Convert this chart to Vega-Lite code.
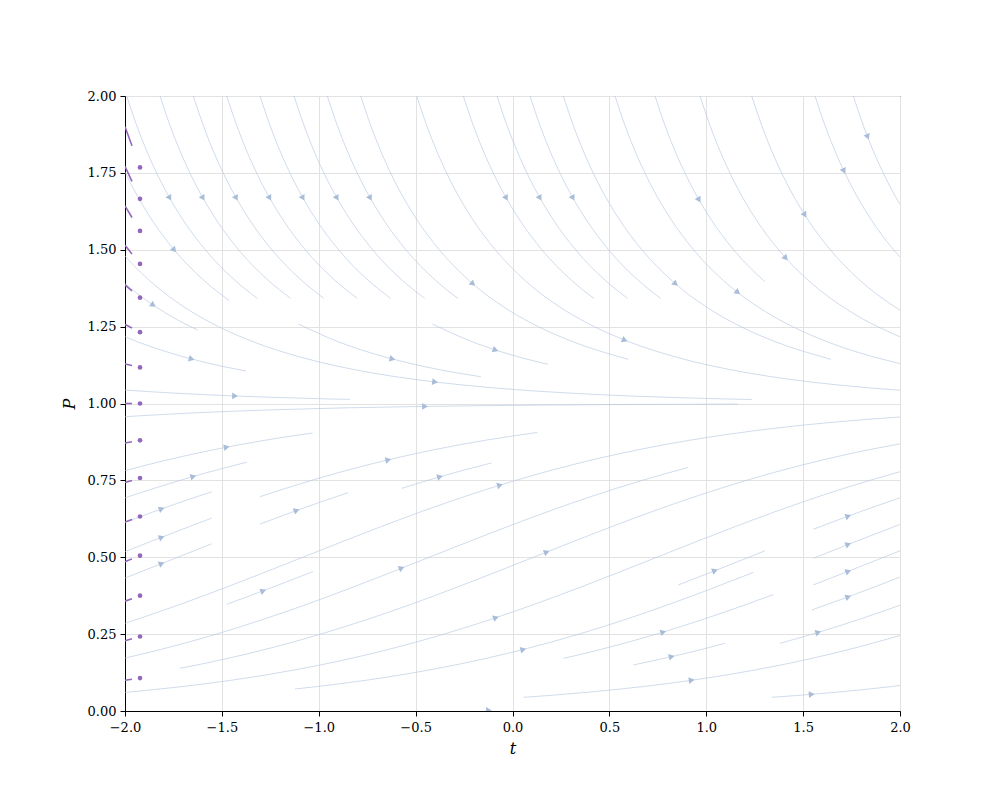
{
"$schema":"https://vega.github.io/schema/vega-lite/v6.json",
"width":775,"height":615,
"autosize":{"type":"none"},
"padding":{"left":125,"top":96,"right":100,"bottom":89},
"background":"white",
"config":{
 "view":{"stroke":"black","strokeWidth":1},
 "axis":{"domainColor":"black","domainWidth":1,"grid":true,"gridColor":"#e2e2e2","gridWidth":1,"tickColor":"black","tickSize":5,"tickWidth":1,"labelFont":"DejaVu Serif","labelFontSize":13,"labelColor":"black","labelPadding":4,"labelFlush":false,"labelOverlap":false,"titleFont":"DejaVu Serif","titleFontStyle":"italic","titleFontWeight":"normal","titleFontSize":16,"titleColor":"black"}
},
"datasets":{
"lines":[
{"s":"U1","t":-1.9912,"P":2.0},{"s":"U1","t":-1.9371,"P":1.9},{"s":"U1","t":-1.8734,"P":1.8},{"s":"U1","t":-1.797,"P":1.7},{"s":"U1","t":-1.7035,"P":1.6},{"s":"U1","t":-1.5857,"P":1.5},{"s":"U1","t":-1.4315,"P":1.4},{"s":"U1","t":-1.3172,"P":1.342},
{"s":"U1b","t":-1.1051,"P":1.2585},{"s":"U1b","t":-0.8962,"P":1.2},{"s":"U1b","t":-0.6511,"P":1.15},{"s":"U1b","t":-0.4544,"P":1.12},{"s":"U1b","t":-0.2901,"P":1.1},{"s":"U1b","t":-0.1628,"P":1.087},
{"s":"U2","t":-1.8194,"P":2.0},{"s":"U2","t":-1.7653,"P":1.9},{"s":"U2","t":-1.7016,"P":1.8},{"s":"U2","t":-1.6252,"P":1.7},{"s":"U2","t":-1.5317,"P":1.6},{"s":"U2","t":-1.4139,"P":1.5},{"s":"U2","t":-1.2597,"P":1.4},{"s":"U2","t":-1.1454,"P":1.342},
{"s":"U3","t":-1.6475,"P":2.0},{"s":"U3","t":-1.5934,"P":1.9},{"s":"U3","t":-1.5297,"P":1.8},{"s":"U3","t":-1.4533,"P":1.7},{"s":"U3","t":-1.3598,"P":1.6},{"s":"U3","t":-1.242,"P":1.5},{"s":"U3","t":-1.0878,"P":1.4},{"s":"U3","t":-0.9735,"P":1.342},
{"s":"U4","t":-1.4751,"P":2.0},{"s":"U4","t":-1.421,"P":1.9},{"s":"U4","t":-1.3573,"P":1.8},{"s":"U4","t":-1.2809,"P":1.7},{"s":"U4","t":-1.1874,"P":1.6},{"s":"U4","t":-1.0696,"P":1.5},{"s":"U4","t":-0.9154,"P":1.4},{"s":"U4","t":-0.8011,"P":1.342},
{"s":"U5","t":-1.3032,"P":2.0},{"s":"U5","t":-1.2491,"P":1.9},{"s":"U5","t":-1.1854,"P":1.8},{"s":"U5","t":-1.109,"P":1.7},{"s":"U5","t":-1.0155,"P":1.6},{"s":"U5","t":-0.8977,"P":1.5},{"s":"U5","t":-0.7435,"P":1.4},{"s":"U5","t":-0.6292,"P":1.342},
{"s":"U5b","t":-0.4134,"P":1.2585},{"s":"U5b","t":-0.2045,"P":1.2},{"s":"U5b","t":0.0406,"P":1.15},{"s":"U5b","t":0.1827,"P":1.1276},
{"s":"U6","t":-1.1277,"P":2.0},{"s":"U6","t":-1.0736,"P":1.9},{"s":"U6","t":-1.0099,"P":1.8},{"s":"U6","t":-0.9335,"P":1.7},{"s":"U6","t":-0.84,"P":1.6},{"s":"U6","t":-0.7222,"P":1.5},{"s":"U6","t":-0.568,"P":1.4},{"s":"U6","t":-0.4537,"P":1.342},
{"s":"U7","t":-0.9559,"P":2.0},{"s":"U7","t":-0.9018,"P":1.9},{"s":"U7","t":-0.8381,"P":1.8},{"s":"U7","t":-0.7617,"P":1.7},{"s":"U7","t":-0.6682,"P":1.6},{"s":"U7","t":-0.5504,"P":1.5},{"s":"U7","t":-0.3962,"P":1.4},{"s":"U7","t":-0.2819,"P":1.342},
{"s":"U8","t":-0.7835,"P":2.0},{"s":"U8","t":-0.7294,"P":1.9},{"s":"U8","t":-0.6657,"P":1.8},{"s":"U8","t":-0.5893,"P":1.7},{"s":"U8","t":-0.4958,"P":1.6},{"s":"U8","t":-0.378,"P":1.5},{"s":"U8","t":-0.2238,"P":1.4},{"s":"U8","t":-0.0103,"P":1.3},{"s":"U8","t":0.1328,"P":1.25},{"s":"U8","t":0.3152,"P":1.2},{"s":"U8","t":0.5977,"P":1.1437},
{"s":"U9","t":-0.4945,"P":2.0},{"s":"U9","t":-0.4404,"P":1.9},{"s":"U9","t":-0.3767,"P":1.8},{"s":"U9","t":-0.3003,"P":1.7},{"s":"U9","t":-0.2068,"P":1.6},{"s":"U9","t":-0.089,"P":1.5},{"s":"U9","t":0.0652,"P":1.4},{"s":"U9","t":0.2787,"P":1.3},{"s":"U9","t":0.4218,"P":1.25},{"s":"U9","t":0.6042,"P":1.2},{"s":"U9","t":0.8493,"P":1.15},{"s":"U9","t":1.2103,"P":1.1},{"s":"U9","t":1.4151,"P":1.08},{"s":"U9","t":1.6841,"P":1.06},{"s":"U9","t":1.8569,"P":1.05},{"s":"U9","t":2.0,"P":1.0431},
{"s":"U10","t":-0.2539,"P":2.0},{"s":"U10","t":-0.1998,"P":1.9},{"s":"U10","t":-0.1361,"P":1.8},{"s":"U10","t":-0.0597,"P":1.7},{"s":"U10","t":0.0338,"P":1.6},{"s":"U10","t":0.1516,"P":1.5},{"s":"U10","t":0.3058,"P":1.4},{"s":"U10","t":0.4201,"P":1.342},
{"s":"U11","t":-0.08,"P":2.0},{"s":"U11","t":-0.0259,"P":1.9},{"s":"U11","t":0.0378,"P":1.8},{"s":"U11","t":0.1142,"P":1.7},{"s":"U11","t":0.2077,"P":1.6},{"s":"U11","t":0.3255,"P":1.5},{"s":"U11","t":0.4797,"P":1.4},{"s":"U11","t":0.594,"P":1.342},
{"s":"U12","t":0.0903,"P":2.0},{"s":"U12","t":0.1444,"P":1.9},{"s":"U12","t":0.2081,"P":1.8},{"s":"U12","t":0.2845,"P":1.7},{"s":"U12","t":0.378,"P":1.6},{"s":"U12","t":0.4958,"P":1.5},{"s":"U12","t":0.65,"P":1.4},{"s":"U12","t":0.7643,"P":1.342},
{"s":"U13","t":0.2622,"P":2.0},{"s":"U13","t":0.3163,"P":1.9},{"s":"U13","t":0.38,"P":1.8},{"s":"U13","t":0.4564,"P":1.7},{"s":"U13","t":0.5499,"P":1.6},{"s":"U13","t":0.6677,"P":1.5},{"s":"U13","t":0.8219,"P":1.4},{"s":"U13","t":1.0354,"P":1.3},{"s":"U13","t":1.1785,"P":1.25},{"s":"U13","t":1.3609,"P":1.2},{"s":"U13","t":1.6434,"P":1.1437},
{"s":"U14","t":0.529,"P":2.0},{"s":"U14","t":0.5831,"P":1.9},{"s":"U14","t":0.6468,"P":1.8},{"s":"U14","t":0.7232,"P":1.7},{"s":"U14","t":0.8167,"P":1.6},{"s":"U14","t":0.9345,"P":1.5},{"s":"U14","t":1.0887,"P":1.4},{"s":"U14","t":1.3022,"P":1.3},{"s":"U14","t":1.4453,"P":1.25},{"s":"U14","t":1.6277,"P":1.2},{"s":"U14","t":1.8728,"P":1.15},{"s":"U14","t":2.0,"P":1.1298},
{"s":"U15","t":0.7355,"P":2.0},{"s":"U15","t":0.7896,"P":1.9},{"s":"U15","t":0.8533,"P":1.8},{"s":"U15","t":0.9297,"P":1.7},{"s":"U15","t":1.0232,"P":1.6},{"s":"U15","t":1.141,"P":1.5},{"s":"U15","t":1.3024,"P":1.396},
{"s":"U16","t":0.9677,"P":2.0},{"s":"U16","t":1.0218,"P":1.9},{"s":"U16","t":1.0855,"P":1.8},{"s":"U16","t":1.1619,"P":1.7},{"s":"U16","t":1.2554,"P":1.6},{"s":"U16","t":1.3732,"P":1.5},{"s":"U16","t":1.5274,"P":1.4},{"s":"U16","t":1.7409,"P":1.3},{"s":"U16","t":2.0,"P":1.2167},
{"s":"U17","t":1.2346,"P":2.0},{"s":"U17","t":1.2887,"P":1.9},{"s":"U17","t":1.3524,"P":1.8},{"s":"U17","t":1.4288,"P":1.7},{"s":"U17","t":1.5223,"P":1.6},{"s":"U17","t":1.6401,"P":1.5},{"s":"U17","t":1.7943,"P":1.4},{"s":"U17","t":2.0,"P":1.3031},
{"s":"U18","t":1.5613,"P":2.0},{"s":"U18","t":1.6154,"P":1.9},{"s":"U18","t":1.6791,"P":1.8},{"s":"U18","t":1.7555,"P":1.7},{"s":"U18","t":1.849,"P":1.6},{"s":"U18","t":1.9668,"P":1.5},{"s":"U18","t":2.0,"P":1.476},
{"s":"U19","t":1.759,"P":2.0},{"s":"U19","t":1.8131,"P":1.9},{"s":"U19","t":1.8768,"P":1.8},{"s":"U19","t":1.9532,"P":1.7},{"s":"U19","t":2.0,"P":1.647},
{"s":"UL1","t":-2.0,"P":1.753},{"s":"UL1","t":-1.9577,"P":1.7},{"s":"UL1","t":-1.8642,"P":1.6},{"s":"UL1","t":-1.7464,"P":1.5},{"s":"UL1","t":-1.5922,"P":1.4},{"s":"UL1","t":-1.4625,"P":1.335},
{"s":"UL2","t":-2.0,"P":1.4796},{"s":"UL2","t":-1.9565,"P":1.45},{"s":"UL2","t":-1.8738,"P":1.4},{"s":"UL2","t":-1.7767,"P":1.35},{"s":"UL2","t":-1.6603,"P":1.3},{"s":"UL2","t":-1.5172,"P":1.25},{"s":"UL2","t":-1.3348,"P":1.2},{"s":"UL2","t":-1.0897,"P":1.15},{"s":"UL2","t":-0.893,"P":1.12},{"s":"UL2","t":-0.7287,"P":1.1},{"s":"UL2","t":-0.5239,"P":1.08},{"s":"UL2","t":-0.2549,"P":1.06},{"s":"UL2","t":-0.0821,"P":1.05},{"s":"UL2","t":0.1315,"P":1.04},{"s":"UL2","t":0.4095,"P":1.03},{"s":"UL2","t":0.8052,"P":1.02},{"s":"UL2","t":1.2346,"P":1.0129},
{"s":"UL3","t":-2.0,"P":1.39},{"s":"UL3","t":-1.9211,"P":1.35},{"s":"UL3","t":-1.8047,"P":1.3},{"s":"UL3","t":-1.6616,"P":1.25},{"s":"UL3","t":-1.6254,"P":1.239},
{"s":"UL4","t":-2.0,"P":1.217},{"s":"UL4","t":-1.9324,"P":1.2},{"s":"UL4","t":-1.6873,"P":1.15},{"s":"UL4","t":-1.4906,"P":1.12},{"s":"UL4","t":-1.3765,"P":1.1057},
{"s":"UL5","t":-2.0,"P":1.0439},{"s":"UL5","t":-1.9109,"P":1.04},{"s":"UL5","t":-1.6329,"P":1.03},{"s":"UL5","t":-1.2372,"P":1.02},{"s":"UL5","t":-0.9544,"P":1.015},{"s":"UL5","t":-0.8387,"P":1.0134},
{"s":"L1","t":-2.0,"P":0.957},{"s":"L1","t":-1.9245,"P":0.96},{"s":"L1","t":-1.6265,"P":0.97},{"s":"L1","t":-1.2108,"P":0.98},{"s":"L1","t":-0.5075,"P":0.99},{"s":"L1","t":0.1907,"P":0.995},{"s":"L1","t":1.11,"P":0.998},{"s":"L1","t":1.1639,"P":0.9981},
{"s":"L2","t":-2.0,"P":0.7815},{"s":"L2","t":-1.8882,"P":0.8},{"s":"L2","t":-1.5399,"P":0.85},{"s":"L2","t":-1.2821,"P":0.88},{"s":"L2","t":-1.0773,"P":0.9},{"s":"L2","t":-1.032,"P":0.904},
{"s":"L3","t":-2.0,"P":0.6932},{"s":"L3","t":-1.9677,"P":0.7},{"s":"L3","t":-1.7164,"P":0.75},{"s":"L3","t":-1.4287,"P":0.8},{"s":"L3","t":-1.3719,"P":0.8089},
{"s":"L4","t":-2.0,"P":0.6136},{"s":"L4","t":-1.8434,"P":0.65},{"s":"L4","t":-1.6151,"P":0.7},{"s":"L4","t":-1.5525,"P":0.713},
{"s":"L5","t":-2.0,"P":0.5181},{"s":"L5","t":-1.8717,"P":0.55},{"s":"L5","t":-1.6669,"P":0.6},{"s":"L5","t":-1.5525,"P":0.6271},
{"s":"L6","t":-2.0,"P":0.4325},{"s":"L6","t":-1.929,"P":0.45},{"s":"L6","t":-1.7283,"P":0.5},{"s":"L6","t":-1.5525,"P":0.5438},
{"s":"L7","t":-2.0,"P":0.2854},{"s":"L7","t":-1.9295,"P":0.3},{"s":"L7","t":-1.7012,"P":0.35},{"s":"L7","t":-1.4877,"P":0.4},{"s":"L7","t":-1.2829,"P":0.45},{"s":"L7","t":-1.0822,"P":0.5},{"s":"L7","t":-0.8815,"P":0.55},{"s":"L7","t":-0.6767,"P":0.6},{"s":"L7","t":-0.4632,"P":0.65},{"s":"L7","t":-0.2349,"P":0.7},{"s":"L7","t":0.0164,"P":0.75},{"s":"L7","t":0.3041,"P":0.8},{"s":"L7","t":0.6524,"P":0.85},{"s":"L7","t":0.9102,"P":0.88},{"s":"L7","t":1.115,"P":0.9},{"s":"L7","t":1.3601,"P":0.92},{"s":"L7","t":1.6693,"P":0.94},{"s":"L7","t":2.0,"P":0.9562},
{"s":"Lc","t":-1.3032,"P":0.697},{"s":"Lc","t":-1.0379,"P":0.75},{"s":"Lc","t":-0.7502,"P":0.8},{"s":"Lc","t":-0.4019,"P":0.85},{"s":"Lc","t":-0.1441,"P":0.88},{"s":"Lc","t":0.128,"P":0.9059},
{"s":"Ld","t":-0.5719,"P":0.724},{"s":"Ld","t":-0.438,"P":0.75},{"s":"Ld","t":-0.1503,"P":0.8},{"s":"Ld","t":-0.1074,"P":0.8068},
{"s":"L5m","t":-1.4751,"P":0.347},{"s":"L5m","t":-1.2483,"P":0.4},{"s":"L5m","t":-1.0435,"P":0.45},{"s":"L5m","t":-1.0281,"P":0.4538},
{"s":"L6m","t":-1.3032,"P":0.608},{"s":"L6m","t":-1.1237,"P":0.65},{"s":"L6m","t":-0.8954,"P":0.7},{"s":"L6m","t":-0.8475,"P":0.71},
{"s":"LB","t":-1.7161,"P":0.1389},{"s":"LB","t":-1.6262,"P":0.15},{"s":"LB","t":-1.2779,"P":0.2},{"s":"LB","t":-0.9902,"P":0.25},{"s":"LB","t":-0.7389,"P":0.3},{"s":"LB","t":-0.5106,"P":0.35},{"s":"LB","t":-0.2971,"P":0.4},{"s":"LB","t":-0.0923,"P":0.45},{"s":"LB","t":0.1084,"P":0.5},{"s":"LB","t":0.3091,"P":0.55},{"s":"LB","t":0.5139,"P":0.6},{"s":"LB","t":0.7274,"P":0.65},{"s":"LB","t":0.9557,"P":0.7},{"s":"LB","t":1.207,"P":0.75},{"s":"LB","t":1.4947,"P":0.8},{"s":"LB","t":1.843,"P":0.85},{"s":"LB","t":2.0,"P":0.869},
{"s":"L8","t":-2.0,"P":0.1722},{"s":"L8","t":-1.8159,"P":0.2},{"s":"L8","t":-1.5282,"P":0.25},{"s":"L8","t":-1.2769,"P":0.3},{"s":"L8","t":-1.0486,"P":0.35},{"s":"L8","t":-0.8351,"P":0.4},{"s":"L8","t":-0.6303,"P":0.45},{"s":"L8","t":-0.4296,"P":0.5},{"s":"L8","t":-0.2289,"P":0.55},{"s":"L8","t":-0.0241,"P":0.6},{"s":"L8","t":0.1894,"P":0.65},{"s":"L8","t":0.4177,"P":0.7},{"s":"L8","t":0.669,"P":0.75},{"s":"L8","t":0.9074,"P":0.792},
{"s":"L9","t":-2.0,"P":0.0604},{"s":"L9","t":-1.6973,"P":0.08},{"s":"L9","t":-1.4522,"P":0.1},{"s":"L9","t":-1.2474,"P":0.12},{"s":"L9","t":-0.9896,"P":0.15},{"s":"L9","t":-0.6413,"P":0.2},{"s":"L9","t":-0.3536,"P":0.25},{"s":"L9","t":-0.1023,"P":0.3},{"s":"L9","t":0.126,"P":0.35},{"s":"L9","t":0.3395,"P":0.4},{"s":"L9","t":0.5443,"P":0.45},{"s":"L9","t":0.745,"P":0.5},{"s":"L9","t":0.9457,"P":0.55},{"s":"L9","t":1.1505,"P":0.6},{"s":"L9","t":1.364,"P":0.65},{"s":"L9","t":1.5923,"P":0.7},{"s":"L9","t":1.8436,"P":0.75},{"s":"L9","t":2.0,"P":0.7782},
{"s":"L11","t":-1.1226,"P":0.0715},{"s":"L11","t":-1.001,"P":0.08},{"s":"L11","t":-0.7559,"P":0.1},{"s":"L11","t":-0.5511,"P":0.12},{"s":"L11","t":-0.2933,"P":0.15},{"s":"L11","t":0.055,"P":0.2},{"s":"L11","t":0.3427,"P":0.25},{"s":"L11","t":0.594,"P":0.3},{"s":"L11","t":0.8223,"P":0.35},{"s":"L11","t":1.0358,"P":0.4},{"s":"L11","t":1.2429,"P":0.4506},
{"s":"E","t":0.2622,"P":0.171},{"s":"E","t":0.4544,"P":0.2},{"s":"E","t":0.7421,"P":0.25},{"s":"E","t":0.9934,"P":0.3},{"s":"E","t":1.2217,"P":0.35},{"s":"E","t":1.3461,"P":0.3788},
{"s":"F","t":0.6235,"P":0.1496},{"s":"F","t":0.9746,"P":0.2},{"s":"F","t":1.0968,"P":0.2203},
{"s":"G","t":0.0559,"P":0.0445},{"s":"G","t":0.1782,"P":0.05},{"s":"G","t":0.3711,"P":0.06},{"s":"G","t":0.6803,"P":0.08},{"s":"G","t":0.9254,"P":0.1},{"s":"G","t":1.1302,"P":0.12},{"s":"G","t":1.388,"P":0.15},{"s":"G","t":1.7363,"P":0.2},{"s":"G","t":2.0,"P":0.2455},
{"s":"H","t":0.8558,"P":0.41},{"s":"H","t":1.0188,"P":0.45},{"s":"H","t":1.2195,"P":0.5},{"s":"H","t":1.3032,"P":0.521},
{"s":"I","t":1.5526,"P":0.591},{"s":"I","t":1.8033,"P":0.65},{"s":"I","t":2.0,"P":0.6933},
{"s":"J","t":1.5526,"P":0.4966},{"s":"J","t":1.7669,"P":0.55},{"s":"J","t":2.0,"P":0.6068},
{"s":"K","t":1.5526,"P":0.41},{"s":"K","t":1.7156,"P":0.45},{"s":"K","t":1.9163,"P":0.5},{"s":"K","t":2.0,"P":0.521},
{"s":"Lq","t":1.5443,"P":0.3285},{"s":"Lq","t":1.6405,"P":0.35},{"s":"Lq","t":1.854,"P":0.4},{"s":"Lq","t":2.0,"P":0.4355},
{"s":"M","t":1.3806,"P":0.22},{"s":"M","t":1.5477,"P":0.25},{"s":"M","t":1.799,"P":0.3},{"s":"M","t":2.0,"P":0.3438},
{"s":"O","t":1.3377,"P":0.0445},{"s":"O","t":1.46,"P":0.05},{"s":"O","t":1.6529,"P":0.06},{"s":"O","t":1.9621,"P":0.08},{"s":"O","t":2.0,"P":0.0829}
],
"arrows":[
{"t":-1.7692,"P":1.668,"d":-1.1142},{"t":-1.5974,"P":1.668,"d":-1.1142},{"t":-1.4255,"P":1.668,"d":-1.1142},{"t":-1.2531,"P":1.668,"d":-1.1142},{"t":-1.0812,"P":1.668,"d":-1.1142},{"t":-0.9057,"P":1.668,"d":-1.1142},{"t":-0.7339,"P":1.668,"d":-1.1142},{"t":-0.0319,"P":1.668,"d":-1.1142},{"t":0.142,"P":1.668,"d":-1.1142},{"t":0.3123,"P":1.668,"d":-1.1142},
{"t":0.9629,"P":1.662,"d":-1.1002},{"t":-1.7457,"P":1.499,"d":-0.748},{"t":-1.8539,"P":1.32,"d":-0.4224},{"t":-1.6559,"P":1.1447,"d":-0.1656},{"t":-1.432,"P":1.0244,"d":-0.025},{"t":-0.6197,"P":1.1447,"d":-0.1656},{"t":-0.3997,"P":1.07,"d":-0.0749},{"t":-0.2038,"P":1.389,"d":-0.5403},{"t":-0.0872,"P":1.174,"d":-0.2043},{"t":0.5796,"P":1.206,"d":-0.2484},{"t":0.8419,"P":1.389,"d":-0.5403},{"t":1.163,"P":1.361,"d":-0.4913},{"t":1.4106,"P":1.473,"d":-0.6967},{"t":1.509,"P":1.613,"d":-0.9888},{"t":1.711,"P":1.756,"d":-1.3275},{"t":1.833,"P":1.867,"d":-1.6187},
{"t":-0.4516,"P":0.9905,"d":0.0094},{"t":-1.4751,"P":0.858,"d":0.1218},{"t":-1.6475,"P":0.7627,"d":0.181},{"t":-1.8106,"P":0.6574,"d":0.2252},{"t":-1.8106,"P":0.5651,"d":0.2458},{"t":-1.8106,"P":0.4794,"d":0.2496},{"t":-0.641,"P":0.8169,"d":0.1496},{"t":-0.3742,"P":0.7618,"d":0.1815},{"t":-0.0645,"P":0.7345,"d":0.195},{"t":-1.2862,"P":0.3909,"d":0.2381},{"t":-1.1138,"P":0.6522,"d":0.2268},{"t":-0.5719,"P":0.4645,"d":0.2487},{"t":-0.0852,"P":0.3036,"d":0.2114},{"t":0.0559,"P":0.2001,"d":0.1601},{"t":0.1768,"P":0.5171,"d":0.2497},{"t":0.7784,"P":0.2569,"d":0.1909},{"t":0.8217,"P":0.1766,"d":0.1454},{"t":0.9249,"P":0.1,"d":0.09},{"t":1.0452,"P":0.4565,"d":0.2481},{"t":1.5443,"P":0.0542,"d":0.0513},{"t":1.5784,"P":0.2558,"d":0.1904},{"t":1.7332,"P":0.6339,"d":0.232},{"t":1.7332,"P":0.5417,"d":0.2483},{"t":1.7332,"P":0.4544,"d":0.2479},{"t":1.7332,"P":0.3714,"d":0.2335},{"t":-0.1213,"P":0.002,"d":0.002}
],
"euler":[
{"t0":-2,"P0":0.1,"t1":-1.964,"P1":0.1032,"td":-1.9226,"Pd":0.107},
{"t0":-2,"P0":0.2286,"t1":-1.964,"P1":0.2349,"td":-1.9226,"Pd":0.2422},
{"t0":-2,"P0":0.3571,"t1":-1.964,"P1":0.3654,"td":-1.9226,"Pd":0.3749},
{"t0":-2,"P0":0.4857,"t1":-1.964,"P1":0.4947,"td":-1.9226,"Pd":0.505},
{"t0":-2,"P0":0.6143,"t1":-1.964,"P1":0.6228,"td":-1.9226,"Pd":0.6326},
{"t0":-2,"P0":0.7429,"t1":-1.964,"P1":0.7498,"td":-1.9226,"Pd":0.7577},
{"t0":-2,"P0":0.8714,"t1":-1.964,"P1":0.8754,"td":-1.9226,"Pd":0.8801},
{"t0":-2,"P0":1.0,"t1":-1.964,"P1":1.0,"td":-1.9226,"Pd":1.0},
{"t0":-2,"P0":1.1286,"t1":-1.964,"P1":1.1234,"td":-1.9226,"Pd":1.1174},
{"t0":-2,"P0":1.2571,"t1":-1.964,"P1":1.2455,"td":-1.9226,"Pd":1.2321},
{"t0":-2,"P0":1.3857,"t1":-1.964,"P1":1.3665,"td":-1.9226,"Pd":1.3443},
{"t0":-2,"P0":1.5143,"t1":-1.964,"P1":1.4863,"td":-1.9226,"Pd":1.454},
{"t0":-2,"P0":1.6429,"t1":-1.964,"P1":1.6049,"td":-1.9226,"Pd":1.5611},
{"t0":-2,"P0":1.7714,"t1":-1.964,"P1":1.7222,"td":-1.9226,"Pd":1.6656},
{"t0":-2,"P0":1.9,"t1":-1.964,"P1":1.8384,"td":-1.9226,"Pd":1.7676}
]
},
"layer":[
{"data":{"name":"lines"},
 "mark":{"type":"line","interpolate":"monotone","stroke":"#b0c4de","strokeWidth":0.8,"opacity":0.75,"clip":true},
 "encoding":{
  "x":{"field":"t","type":"quantitative","scale":{"domain":[-2,2],"nice":false,"zero":false},"axis":{"title":"t","values":[-2,-1.5,-1,-0.5,0,0.5,1,1.5,2],"format":".1f","titlePadding":6,"labelPadding":5}},
  "y":{"field":"P","type":"quantitative","scale":{"domain":[0,2],"nice":false},"axis":{"title":"P","values":[0,0.25,0.5,0.75,1,1.25,1.5,1.75,2],"format":".2f","titlePadding":10}},
  "detail":{"field":"s"}
 }},
{"data":{"name":"arrows"},
 "transform":[{"calculate":"atan2(-1.5871*datum.d,1)*180/PI","as":"ang"}],
 "mark":{"type":"point","shape":"triangle-right","filled":true,"size":45,"color":"#a9bdd9","opacity":1,"clip":true},
 "encoding":{
  "x":{"field":"t","type":"quantitative","title":"t"},
  "y":{"field":"P","type":"quantitative","title":"P"},
  "angle":{"field":"ang","type":"quantitative","scale":null}
 }},
{"data":{"name":"euler"},
 "mark":{"type":"rule","color":"#9467bd","strokeWidth":1.6,"clip":true},
 "encoding":{
  "x":{"field":"t0","type":"quantitative","title":"t"},
  "y":{"field":"P0","type":"quantitative","title":"P"},
  "x2":{"field":"t1"},
  "y2":{"field":"P1"}
 }},
{"data":{"name":"euler"},
 "mark":{"type":"point","filled":true,"size":22,"color":"#9467bd","opacity":1},
 "encoding":{
  "x":{"field":"td","type":"quantitative","title":"t"},
  "y":{"field":"Pd","type":"quantitative","title":"P"}
 }}
]
}
